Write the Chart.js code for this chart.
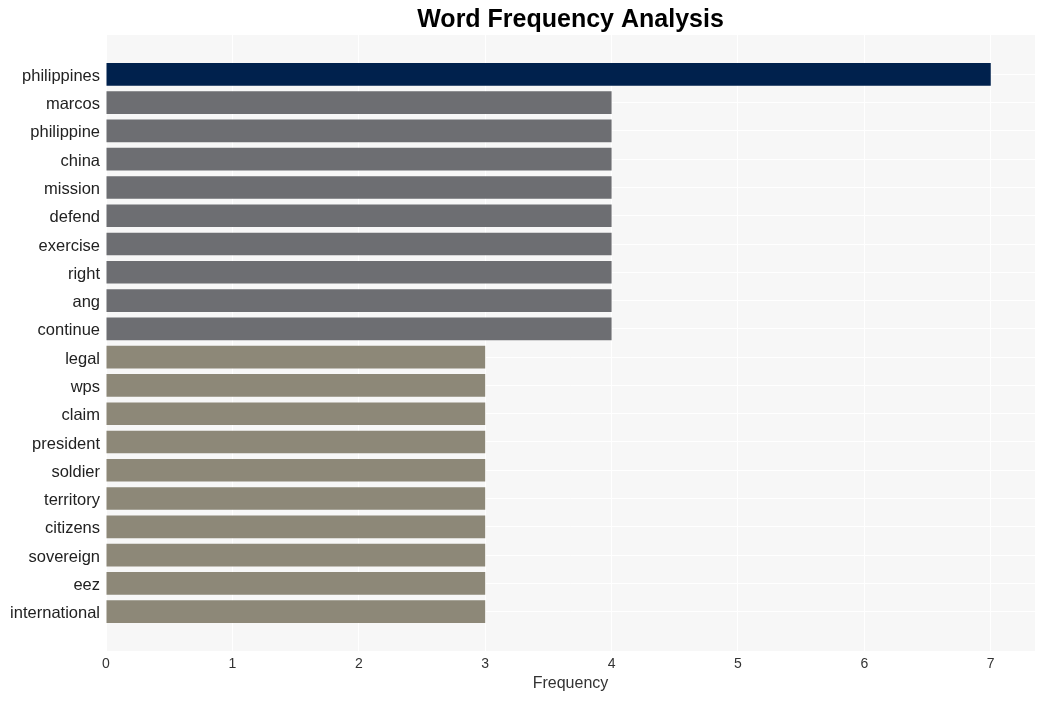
<!DOCTYPE html>
<html>
<head>
<meta charset="utf-8">
<script src="https://cdn.jsdelivr.net/npm/chart.js@4/dist/chart.umd.min.js"></script>
<style>
  html, body { margin: 0; padding: 0; background: #ffffff; }
  #wrap { width: 1045px; height: 701px; position: relative; }
</style>
</head>
<body>
<div id="wrap"><canvas id="c"></canvas></div>
<script>
const categories = ["philippines","marcos","philippine","china","mission","defend","exercise","right","ang","continue","legal","wps","claim","president","soldier","territory","citizens","sovereign","eez","international"];
const frequencies = [7,4,4,4,4,4,4,4,4,4,3,3,3,3,3,3,3,3,3,3];
const xTickValues = [0,1,2,3,4,5,6,7];
const titleText = "Word Frequency Analysis";
const xAxisTitle = "Frequency";

const FONT = '"Liberation Sans", Arial, Helvetica, sans-serif';
function colorFor(v) {
  if (v >= 7) return '#00214d';
  if (v >= 4) return '#6d6e72';
  return '#8d8878';
}

const points = categories.map((c, i) => ({ x: frequencies[i], y: i }));

const bgPlugin = {
  id: 'plotBg',
  beforeDraw(chart) {
    const a = chart.chartArea, ctx = chart.ctx;
    ctx.save();
    ctx.fillStyle = '#f7f7f7';
    ctx.fillRect(a.left, a.top, a.right - a.left, a.bottom - a.top);
    ctx.restore();
  }
};
const titlePlugin = {
  id: 'centerTitle',
  afterDraw(chart) {
    const a = chart.chartArea, ctx = chart.ctx;
    ctx.save();
    ctx.font = 'bold 25px ' + FONT;
    ctx.fillStyle = '#000000';
    ctx.textAlign = 'center';
    ctx.textBaseline = 'middle';
    ctx.fillText(titleText, (a.left + a.right) / 2, 20);
    ctx.restore();
  }
};

new Chart(document.getElementById('c'), {
  type: 'bar',
  data: {
    datasets: [{
      data: points,
      backgroundColor: frequencies.map(colorFor),
      borderWidth: 0,
      barPercentage: 1.0,
      categoryPercentage: 0.8
    }]
  },
  plugins: [bgPlugin, titlePlugin],
  options: {
    indexAxis: 'y',
    responsive: true,
    maintainAspectRatio: false,
    animation: false,
    layout: { padding: { top: 35, right: 10, left: 0, bottom: 0 } },
    plugins: { legend: { display: false }, title: { display: false }, tooltip: { enabled: false } },
    scales: {
      x: {
        type: 'linear',
        bounds: 'data',
        offset: false,
        min: 0,
        max: 7.35,
        border: { display: false },
        grid: { color: '#ffffff', lineWidth: 1, drawTicks: false, offset: false },
        afterBuildTicks(scale) { scale.ticks = xTickValues.map(v => ({ value: v })); },
        ticks: { stepSize: 1, includeBounds: false, padding: 5, color: '#333333', font: { family: FONT, size: 14 }, maxRotation: 0 },
        title: { display: true, text: xAxisTitle, color: '#333333', font: { family: FONT, size: 16 }, padding: { top: 0, bottom: 8 } },
        afterFit(scale) { scale.height = 50; }
      },
      y: {
        type: 'linear',
        bounds: 'data',
        offset: false,
        reverse: true,
        min: -1.39,
        max: categories.length - 1 + 1.39,
        border: { display: false },
        grid: { color: '#ffffff', lineWidth: 1, drawTicks: false, offset: false },
        afterBuildTicks(scale) { scale.ticks = categories.map((c, i) => ({ value: i })); },
        ticks: {
          padding: 6,
          labelOffset: 2,
          color: '#222222',
          font: { family: FONT, size: 16.5 },
          autoSkip: false,
          includeBounds: false,
          callback(v) { return categories[v] !== undefined ? categories[v] : ''; }
        },
        afterFit(scale) { scale.width = 106; }
      }
    }
  }
});
</script>
</body>
</html>
